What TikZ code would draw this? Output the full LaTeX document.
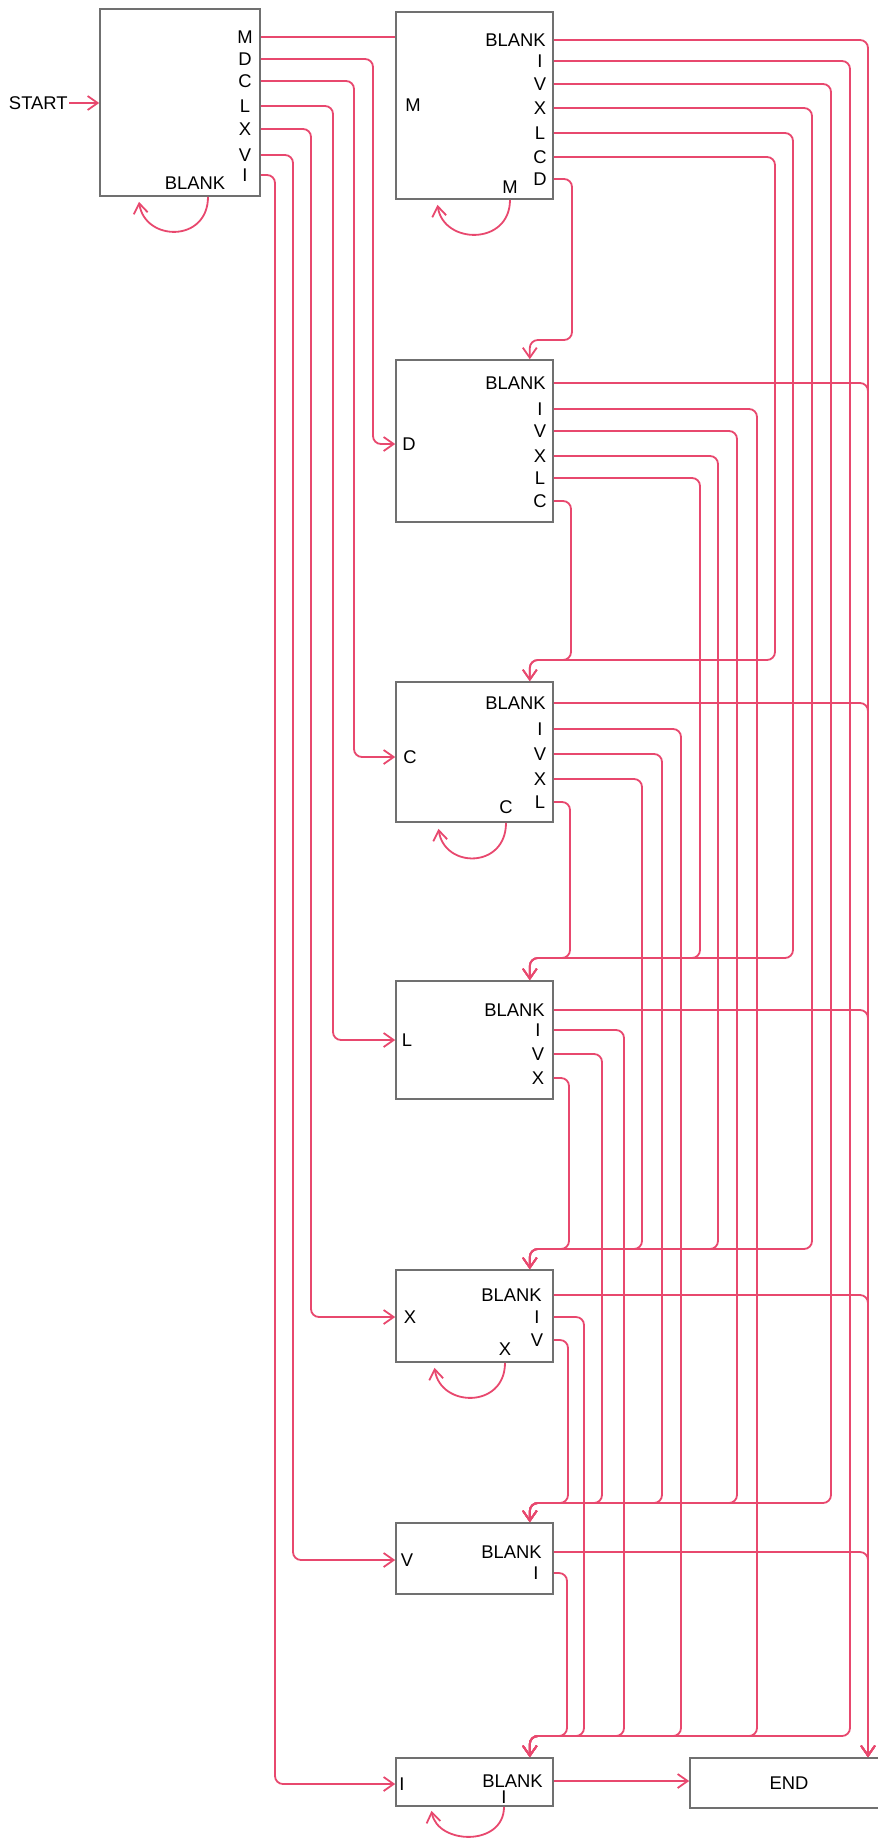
\documentclass[tikz,border=0pt]{standalone}
\usepackage{fontspec}
\setmainfont{Liberation Sans}
\usepackage{tikz}
\usetikzlibrary{arrows.meta,positioning,fit,calc}
\definecolor{WireRed}{HTML}{E8486E}
\definecolor{BoxGray}{HTML}{707070}
\tikzset{
  fsm/state/.style={draw=BoxGray, line width=0.8pt, inner sep=0pt},
  fsm/lab/.style={font=\fontsize{9.2}{10}\selectfont, inner sep=0.5pt},
  fsm/wire/.style={draw=WireRed, line width=0.9pt, rounded corners=4pt},
  fsm/arr/.style={fsm/wire, -{Straight Barb[length=5pt,width=7pt]}},
}

\begin{document}
\begin{tikzpicture}[x=0.5pt, y=-0.5pt]
  \useasboundingbox (0,0) rectangle (878,1838);

  % state boxes
  \node[fsm/state, fit={(100,9) (260,196)}] (init) {};
  \node[fsm/state, fit={(396,12) (553,199)}] (stM) {};
  \node[fsm/state, fit={(396,360) (553,522)}] (stD) {};
  \node[fsm/state, fit={(396,682) (553,822)}] (stC) {};
  \node[fsm/state, fit={(396,981) (553,1099)}] (stL) {};
  \node[fsm/state, fit={(396,1270) (553,1362)}] (stX) {};
  \node[fsm/state, fit={(396,1523) (553,1594)}] (stV) {};
  \node[fsm/state, fit={(396,1758) (553,1806)}] (stI) {};
  \node[fsm/state, fit={(690,1758) (894,1808)}] (finish) {};
  \node[fsm/lab] (endlab) at (789,1783) {END};

  % where the buses enter
  \foreach \t in {D,C,L,X,V,I}
    \coordinate (\t-top) at ($(st\t.north east)+(-24,0)$);
  \coordinate (end-top) at (868,0 |- finish.north);

  % labels
  \node[fsm/lab, anchor=east] (start) at (69,103) {START};
  \foreach \t/\y in {M/37,D/59,C/81,L/106,X/129,V/155,I/175}
    \node[fsm/lab] (S-\t) at (245,\y) {\t};
  \node[fsm/lab] (S-B) at (195,183) {BLANK};

  \node[fsm/lab] (M-in) at (413,105) {M};
  \node[fsm/lab] (M-bot) at (510,187) {M};
  \node[fsm/lab, anchor=east] (M-B) at (547,40) {BLANK};
  \foreach \t/\y in {I/61,V/84,X/108,L/133,C/157,D/179}
    \node[fsm/lab] (M-\t) at (540,\y) {\t};

  \node[fsm/lab] (D-in) at (409,444) {D};
  \node[fsm/lab, anchor=east] (D-B) at (547,383) {BLANK};
  \foreach \t/\y in {I/409,V/431,X/456,L/478,C/501}
    \node[fsm/lab] (D-\t) at (540,\y) {\t};

  \node[fsm/lab] (C-in) at (410,757) {C};
  \node[fsm/lab] (C-bot) at (506,807) {C};
  \node[fsm/lab, anchor=east] (C-B) at (547,703) {BLANK};
  \foreach \t/\y in {I/729,V/754,X/779,L/802}
    \node[fsm/lab] (C-\t) at (540,\y) {\t};

  \node[fsm/lab] (L-in) at (407,1040) {L};
  \node[fsm/lab, anchor=east] (L-B) at (546,1010) {BLANK};
  \foreach \t/\y in {I/1030,V/1054,X/1078}
    \node[fsm/lab] (L-\t) at (538,\y) {\t};

  \node[fsm/lab] (X-in) at (410,1317) {X};
  \node[fsm/lab] (X-bot) at (505,1349) {X};
  \node[fsm/lab, anchor=east] (X-B) at (543,1295) {BLANK};
  \foreach \t/\y in {I/1317,V/1340}
    \node[fsm/lab] (X-\t) at (537,\y) {\t};

  \node[fsm/lab] (V-in) at (407,1560) {V};
  \node[fsm/lab, anchor=east] (V-B) at (543,1552) {BLANK};
  \node[fsm/lab] (V-I) at (536,1573) {I};

  \node[fsm/lab] (I-in) at (402,1784) {I};
  \node[fsm/lab, anchor=east] (I-B) at (544,1781) {BLANK};
  \node[fsm/lab] (I-bot) at (504,1797) {I};

  % start box
  \draw[fsm/arr] (start.east) -- (start -| init.west);
  \draw[fsm/wire] (S-M -| init.east) -- (S-M -| stM.west);
  \foreach \t/\c in {D/373, C/354, L/333, X/311, V/293, I/275}
    \draw[fsm/arr] (S-\t -| init.east) -| (\c,0 |- \t-in) -- (\t-in -| st\t.west);
  \draw[fsm/arr] ($(init.south)+(28,0)$) .. controls +(0,46) and +(6,40) .. ($(init.south)+(-41,5)$);

  % M
  \draw[fsm/arr] (M-B -| stM.east) -| (end-top);
  \foreach \t/\c/\b in {I/850/1736, V/831/1503, X/812/1249, L/793/958, C/775/660, D/572/340}
    \draw[fsm/arr] (M-\t -| stM.east) -| (\c,\b) -| (\t-top);
  \draw[fsm/arr] (M-bot |- stM.south) .. controls +(0,46) and +(6,40) .. ($(stM.south)+(-37,5)$);

  % D
  \draw[fsm/arr] (D-B -| stD.east) -| (end-top);
  \foreach \t/\c/\b in {I/757/1736, V/737/1503, X/718/1249, L/700/958, C/571/660}
    \draw[fsm/arr] (D-\t -| stD.east) -| (\c,\b) -| (\t-top);

  % C
  \draw[fsm/arr] (C-B -| stC.east) -| (end-top);
  \foreach \t/\c/\b in {I/681/1736, V/662/1503, X/642/1249, L/570/958}
    \draw[fsm/arr] (C-\t -| stC.east) -| (\c,\b) -| (\t-top);
  \draw[fsm/arr] (C-bot |- stC.south) .. controls +(0,46) and +(6,40) .. ($(stC.south)+(-36,6)$);

  % L
  \draw[fsm/arr] (L-B -| stL.east) -| (end-top);
  \foreach \t/\c/\b in {I/624/1736, V/602/1503, X/569/1249}
    \draw[fsm/arr] (L-\t -| stL.east) -| (\c,\b) -| (\t-top);

  % X
  \draw[fsm/arr] (X-B -| stX.east) -| (end-top);
  \foreach \t/\c/\b in {I/584/1736, V/568/1503}
    \draw[fsm/arr] (X-\t -| stX.east) -| (\c,\b) -| (\t-top);
  \draw[fsm/arr] (X-bot |- stX.south) .. controls +(0,46) and +(6,40) .. ($(stX.south)+(-40,5)$);

  % V
  \draw[fsm/arr] (V-B -| stV.east) -| (end-top);
  \draw[fsm/arr] (V-I -| stV.east) -| (567,1736) -| (I-top);

  % I
  \draw[fsm/arr] (I-B -| stI.east) -- (I-B -| finish.west);
  \draw[fsm/arr] (I-bot |- stI.south) .. controls +(0,40) and +(6,34) .. ($(stI.south)+(-43,4)$);
\end{tikzpicture}
\end{document}
